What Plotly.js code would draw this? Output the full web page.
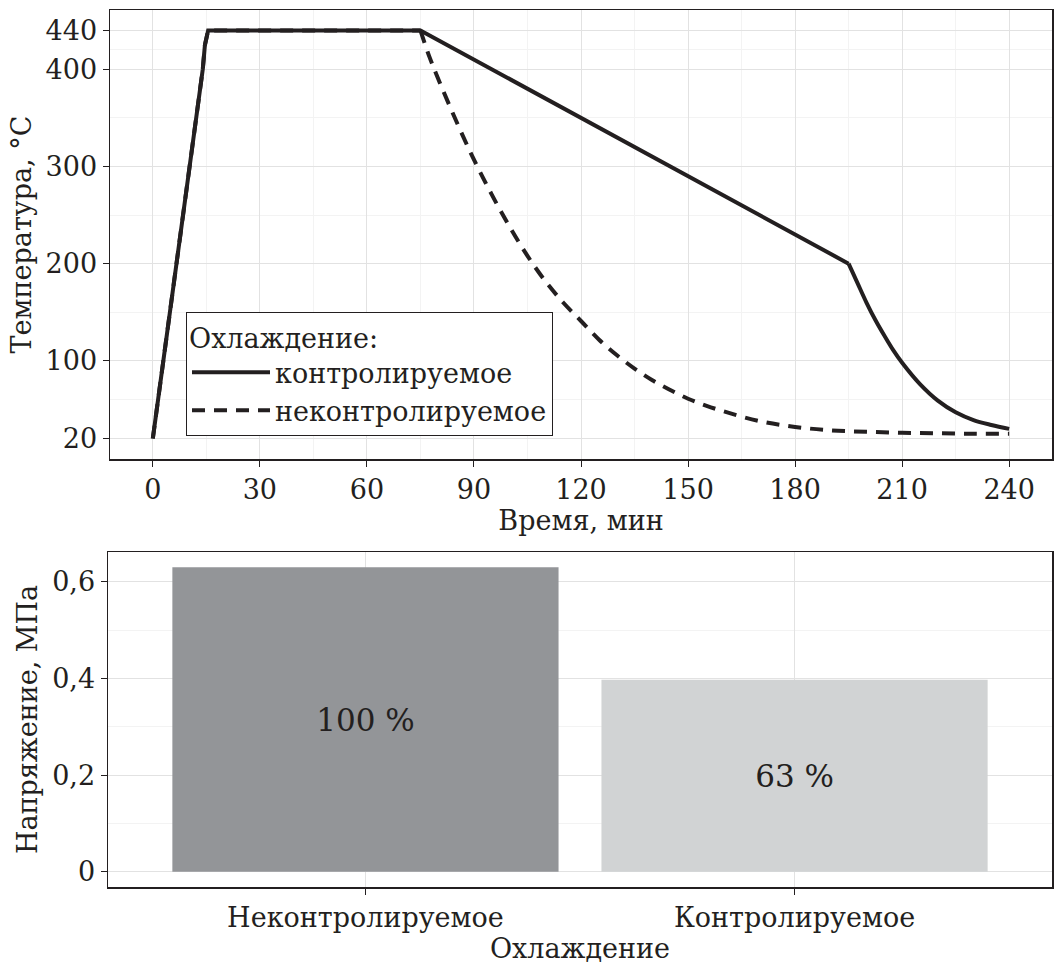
<!DOCTYPE html>
<html>
<head>
<meta charset="utf-8">
<script src="https://cdn.plot.ly/plotly-3.0.1.min.js"></script>
<style>
  html, body { margin: 0; padding: 0; background: #ffffff; }
  #chart { width: 1054px; height: 964px; }
</style>
</head>
<body>
<div id="chart"></div>
<script>
// ---- Top panel: temperature over time ----
const timeControlled = [0, 14, 14.6, 15.5, 75, 195, 197.5, 200, 202.5, 205, 207.5, 210, 215, 220, 225, 230, 235, 240];
const tempControlled = [20, 400, 425, 440, 440, 200, 180, 160, 142, 126, 111, 98, 76, 59, 47, 39, 34, 30];
const controlledBreak = 5;   // index of the 195-min kink where free cooling starts

const timeUncontrolled = [0, 14, 14.6, 15.5, 75, 77.5, 80, 85, 90, 95, 100, 105, 110, 115, 120, 125, 130, 135, 140, 145, 150, 155, 160, 170, 180, 190, 200, 210, 220, 230, 240];
const tempUncontrolled = [20, 400, 425, 440, 440, 413, 390, 347, 307, 271, 238, 208, 182, 160, 141, 122, 106, 92, 80, 70, 61, 54, 48, 38, 32, 28.5, 27, 26, 25.5, 25, 25];
const uncontrolledBreak = 4; // index of the 75-min point where free cooling starts

const seriesNames = ["контролируемое", "неконтролируемое"];
const legendTitle = "Охлаждение:";

const timeTicks = [0, 30, 60, 90, 120, 150, 180, 210, 240];
const timeMinor = [15, 45, 75, 105, 135, 165, 195, 225];
const tempTicks = [20, 100, 200, 300, 400, 440];
const tempMinor = [60, 150, 250, 350, 420];

// ---- Bottom panel: stress by cooling type ----
const coolingTypes = ["Неконтролируемое", "Контролируемое"];
const stressValues = [0.63, 0.397];
const stressLabels = ["100 %", "63 %"];
const barColors = ["#939598", "#d1d3d4"];
const stressTicks = [0, 0.2, 0.4, 0.6];
const stressMinor = [0.1, 0.3, 0.5];

const FONT = "DejaVu Serif, Liberation Serif, serif";
const INK = "#231f20";
const GRID = "#e2e2e2";
const MINOR = "#f3f3f3";
const FS = 27;

const dashLine = { color: INK, width: 4, dash: "13px,9px" };
const solidLine = { color: INK, width: 4 };

const traces = [
  {
    x: timeUncontrolled.slice(0, uncontrolledBreak + 1), y: tempUncontrolled.slice(0, uncontrolledBreak + 1),
    type: "scatter", mode: "lines", name: seriesNames[1], legendgroup: "u", legendrank: 2,
    line: Object.assign({ shape: "linear" }, dashLine), xaxis: "x", yaxis: "y"
  },
  {
    x: timeUncontrolled.slice(uncontrolledBreak), y: tempUncontrolled.slice(uncontrolledBreak),
    type: "scatter", mode: "lines", name: seriesNames[1], legendgroup: "u", showlegend: false,
    line: Object.assign({ shape: "spline", smoothing: 1 }, dashLine), xaxis: "x", yaxis: "y"
  },
  {
    x: timeControlled.slice(0, controlledBreak + 1), y: tempControlled.slice(0, controlledBreak + 1),
    type: "scatter", mode: "lines", name: seriesNames[0], legendgroup: "c", legendrank: 1,
    line: Object.assign({ shape: "linear" }, solidLine), xaxis: "x", yaxis: "y"
  },
  {
    x: timeControlled.slice(controlledBreak), y: tempControlled.slice(controlledBreak),
    type: "scatter", mode: "lines", name: seriesNames[0], legendgroup: "c", showlegend: false,
    line: Object.assign({ shape: "spline", smoothing: 1 }, solidLine), xaxis: "x", yaxis: "y"
  },
  {
    x: coolingTypes, y: stressValues, type: "bar",
    marker: { color: barColors },
    width: 0.9,
    text: stressLabels, textposition: "inside", insidetextanchor: "middle",
    textangle: 0, constraintext: "none",
    textfont: { family: FONT, size: 31, color: INK },
    hoverinfo: "none",
    showlegend: false,
    xaxis: "x2", yaxis: "y2"
  }
];

const baseAxis = {
  showline: true, mirror: true, linecolor: INK, linewidth: 1.5,
  ticks: "outside", ticklen: 6, tickwidth: 1, tickcolor: INK,
  showgrid: true, gridcolor: GRID, gridwidth: 1,
  zeroline: false,
  tickfont: { family: FONT, size: FS, color: INK },
  automargin: false
};

const layout = {
  width: 1054, height: 964,
  margin: { l: 0, r: 0, t: 0, b: 0 },
  paper_bgcolor: "#ffffff", plot_bgcolor: "#ffffff",
  separators: ", ",
  font: { family: FONT, size: FS, color: INK },
  showlegend: true,
  legend: {
    x: 186 / 1054, y: 1 - 312 / 964, xanchor: "left", yanchor: "top",
    bgcolor: "#ffffff", bordercolor: INK, borderwidth: 1,
    font: { family: FONT, size: FS, color: INK },
    title: { text: legendTitle, font: { family: FONT, size: FS, color: INK } },
    itemwidth: 78, tracegroupgap: 0
  },
  xaxis: Object.assign({}, baseAxis, {
    domain: [110 / 1054, 1052 / 1054], anchor: "y",
    range: [-12, 252],
    tickmode: "array", tickvals: timeTicks, ticktext: timeTicks.map(String),
    minor: { tickmode: "array", tickvals: timeMinor, showgrid: true, gridcolor: MINOR, gridwidth: 1, ticks: "" },
    title: { text: "Время, мин", font: { family: FONT, size: FS, color: INK }, standoff: 6 }
  }),
  yaxis: Object.assign({}, baseAxis, {
    domain: [1 - 459 / 964, 1 - 10 / 964], anchor: "x",
    range: [-1, 461],
    tickmode: "array", tickvals: tempTicks, ticktext: tempTicks.map(String),
    minor: { tickmode: "array", tickvals: tempMinor, showgrid: true, gridcolor: MINOR, gridwidth: 1, ticks: "" },
    title: { text: "Температура, °C", font: { family: FONT, size: FS, color: INK }, standoff: 6 }
  }),
  xaxis2: Object.assign({}, baseAxis, {
    domain: [108 / 1054, 1052 / 1054], anchor: "y2",
    type: "category", range: [-0.6, 1.6],
    title: { text: "Охлаждение", font: { family: FONT, size: FS, color: INK }, standoff: 5 }
  }),
  yaxis2: Object.assign({}, baseAxis, {
    domain: [1 - 887 / 964, 1 - 552 / 964], anchor: "x2",
    range: [-0.0315, 0.6615],
    tickmode: "array", tickvals: stressTicks,
    ticktext: stressTicks.map(v => v === 0 ? "0" : v.toFixed(1).replace(".", ",")),
    minor: { tickmode: "array", tickvals: stressMinor, showgrid: true, gridcolor: MINOR, gridwidth: 1, ticks: "" },
    title: { text: "Напряжение, МПа", font: { family: FONT, size: FS, color: INK }, standoff: 6 }
  })
};

Plotly.newPlot("chart", traces, layout, { displayModeBar: false, staticPlot: true });
</script>
</body>
</html>
